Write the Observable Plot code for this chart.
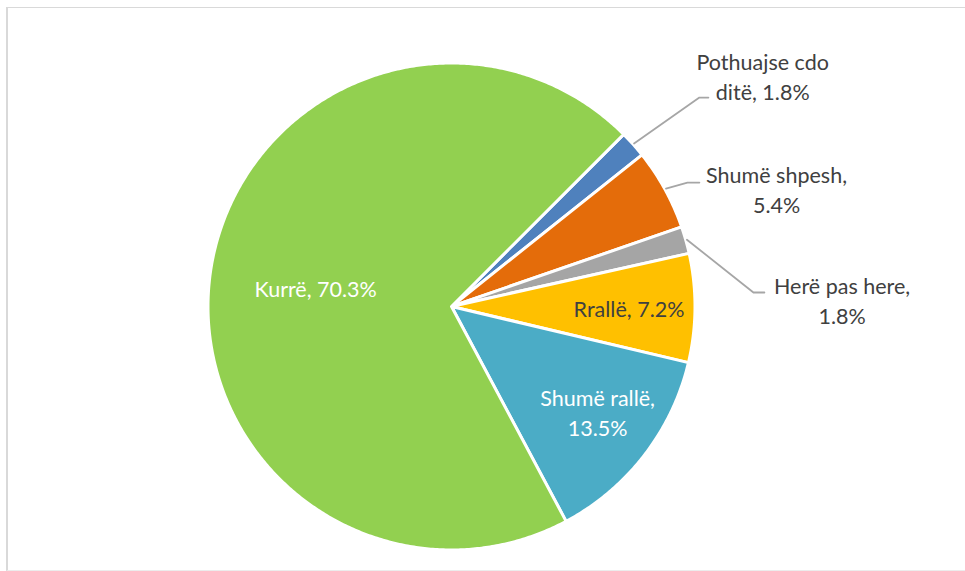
<!DOCTYPE html>
<html><head><meta charset="utf-8">
<script src="https://cdn.jsdelivr.net/npm/d3@7"></script>
<script src="https://cdn.jsdelivr.net/npm/@observablehq/plot@0.6"></script>
<style>
html,body{margin:0;padding:0;background:#fff;}
#wrap{position:relative;width:965px;height:571px;overflow:hidden;}
#frame{position:absolute;left:6px;top:7px;width:990px;height:564px;border-top:1px solid #d9d9d9;border-left:2px solid #d9d9d9;border-bottom:1px solid #ececec;box-sizing:border-box;}
#chart{position:absolute;left:0;top:0;}
</style></head><body>
<div id="wrap"><div id="frame"></div><div id="chart"></div></div>
<script>
// ---- data ----
const categories = ["Pothuajse cdo ditë", "Shumë shpesh", "Herë pas here", "Rrallë", "Shumë rallë", "Kurrë"];
const values = [1.8, 5.4, 1.8, 7.2, 13.5, 70.3];

// ---- styles ----
const colors = ["#4f81bd", "#e46c0a", "#a5a5a5", "#ffc000", "#4bacc6", "#92d050"];
const textColors = ["#404040", "#404040", "#404040", "#404040", "#ffffff", "#ffffff"];
const startAngle = 45; // degrees clockwise from 12 o'clock

// ---- label layout (in pie-radius units, y up) ----
const labelX = [1.278, 1.335, 1.604, 0.729, 0.600, -0.558];
const labelY = [0.941, 0.476, 0.0205, -0.0136, -0.437, 0.070];
const labelBreak = ["word", "comma", "comma", "none", "comma", "none"];
const leaderElbowX = [1.018, 0.969, 1.240, null, null, null];
const leaderElbowY = [0.858, 0.509, 0.0575, null, null, null];
const leaderEndX = [1.055, 1.018, 1.285, null, null, null];

const total = d3.sum(values);
const slices = [];
let acc = startAngle;
categories.forEach((c, i) => {
  const a0 = acc, a1 = acc + values[i] / total * 360;
  acc = a1;
  slices.push({name: c, value: values[i], a0, a1, mid: (a0 + a1) / 2, color: colors[i], i});
});

const rad = a => a * Math.PI / 180;
const pts = [];
for (const s of slices) {
  pts.push({name: s.name, color: s.color, x: 0, y: 0});
  const n = Math.max(2, Math.ceil((s.a1 - s.a0) / 0.5));
  for (let k = 0; k <= n; k++) {
    const a = rad(s.a0 + (s.a1 - s.a0) * k / n);
    pts.push({name: s.name, color: s.color, x: Math.sin(a), y: Math.cos(a)});
  }
}

const fmt = v => v.toFixed(1) + "%";
const labels = slices.map(s => {
  let t;
  const b = labelBreak[s.i];
  if (b === "word") {
    const w = s.name.split(" ");
    t = w.slice(0, -1).join(" ") + "\n" + w[w.length - 1] + ", " + fmt(s.value);
  } else if (b === "comma") {
    t = s.name + ",\n" + fmt(s.value);
  } else {
    t = s.name + ", " + fmt(s.value);
  }
  return {text: t, x: labelX[s.i], y: labelY[s.i], fill: textColors[s.i]};
});

const leaders = [];
slices.forEach(s => {
  if (leaderElbowX[s.i] == null) return;
  leaders.push({name: s.name, x: Math.sin(rad(s.mid)) * 1.005, y: Math.cos(rad(s.mid)) * 1.005});
  leaders.push({name: s.name, x: leaderElbowX[s.i], y: leaderElbowY[s.i]});
  leaders.push({name: s.name, x: leaderEndX[s.i], y: leaderElbowY[s.i]});
});

const chart = Plot.plot({
  width: 965,
  height: 571,
  marginLeft: 207.5,
  marginRight: 270.5,
  marginTop: 62.5,
  marginBottom: 21.5,
  x: {domain: [-1, 1], axis: null},
  y: {domain: [-1, 1], axis: null},
  style: {background: "transparent", fontFamily: "Lato, sans-serif"},
  marks: [
    Plot.line(pts, {x: "x", y: "y", z: "name", fill: "color", stroke: "#ffffff", strokeWidth: 3, strokeLinejoin: "round", curve: "linear-closed"}),
    Plot.line(leaders, {x: "x", y: "y", z: "name", stroke: "#a6a6a6", strokeWidth: 1.8}),
    Plot.text(labels, {x: "x", y: "y", text: "text", fill: "fill", fontSize: 21.5, lineHeight: 1.4, dy: -2, fontFamily: "Lato, sans-serif"})
  ]
});
document.getElementById("chart").appendChild(chart);
</script>
</body></html>
